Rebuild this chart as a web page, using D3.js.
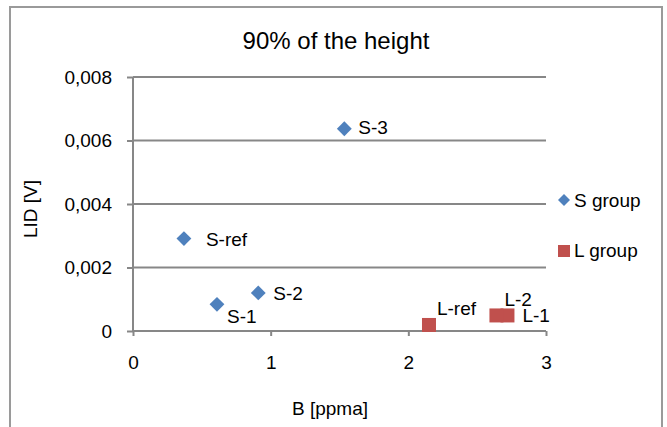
<!DOCTYPE html>
<html>
<head>
<meta charset="utf-8">
<script src="https://cdn.jsdelivr.net/npm/d3@7"></script>
<style>
  body { margin: 0; background: #fff; }
  text { font-family: "Liberation Sans", Arial, sans-serif; fill: #000; }
</style>
</head>
<body>
<div id="chart-area"></div>
<script>
const MARGIN = { LEFT: 133, RIGHT: 121, TOP: 77, BOTTOM: 96 }
const WIDTH = 667 - MARGIN.LEFT - MARGIN.RIGHT
const HEIGHT = 427 - MARGIN.TOP - MARGIN.BOTTOM

// data
const sNames = ["S-ref", "S-1", "S-2", "S-3"]
const sB = [0.37, 0.61, 0.91, 1.535]
const sLID = [0.00291, 0.00084, 0.0012, 0.00637]

const lNames = ["L-ref", "L-1", "L-2"]
const lB = [2.15, 2.72, 2.64]
const lLID = [0.00019, 0.00049, 0.00049]

const xTicks = [0, 1, 2, 3]
const yTicks = [0, 0.002, 0.004, 0.006, 0.008]

// label placement (px from marker centre, left / baseline)
const sLabelOff = [[22, 7], [10, 19], [15, 7], [14, 5]]
const lLabelOff = [[8, -10], [15, 7], [8, -9]]

const svg = d3.select("#chart-area").append("svg")
	.attr("width", 667)
	.attr("height", 427)

// chart border
svg.append("rect")
	.attr("x", 10)
	.attr("y", 7)
	.attr("width", 652)
	.attr("height", 440)
	.attr("fill", "none")
	.attr("stroke", "#9a9a9a")
	.attr("stroke-width", 2)

const g = svg.append("g")
	.attr("transform", `translate(${MARGIN.LEFT}, ${MARGIN.TOP})`)

const x = d3.scaleLinear().domain([0, 3]).range([0, WIDTH])
const y = d3.scaleLinear().domain([0, 0.008]).range([HEIGHT, 0])

// gridlines
g.append("g")
	.selectAll("line")
	.data(yTicks.slice(1))
	.join("line")
	.attr("x1", 0)
	.attr("x2", WIDTH)
	.attr("y1", d => y(d))
	.attr("y2", d => y(d))
	.attr("stroke", "#878787")
	.attr("stroke-width", 2)

const yAxisCall = d3.axisLeft(y)
	.tickValues(yTicks)
	.tickSize(6)
	.tickPadding(15)
	.tickFormat(d => d === 0 ? "0" : d3.format(".3f")(d).replace(".", ","))

const xAxisCall = d3.axisBottom(x)
	.tickValues(xTicks)
	.tickSize(5)
	.tickPadding(20)
	.tickFormat(d3.format("d"))

const yAxis = g.append("g").call(yAxisCall)
const xAxis = g.append("g")
	.attr("transform", `translate(0, ${HEIGHT})`)
	.call(xAxisCall)

for (const ax of [xAxis, yAxis]) {
	ax.select(".domain").attr("stroke", "#878787").attr("stroke-width", 2)
	ax.selectAll(".tick line").attr("stroke", "#878787").attr("stroke-width", 2)
	ax.selectAll(".tick text")
		.attr("font-size", "19px")
		.attr("fill", "#000")
		.style("font-family", "Liberation Sans, Arial, sans-serif")
}
yAxis.select(".domain").attr("d", `M0,${HEIGHT}V0`)
xAxis.select(".domain").attr("d", `M0,0H${WIDTH}`)

// title
svg.append("text")
	.attr("x", 336)
	.attr("y", 49)
	.attr("font-size", "24px")
	.attr("text-anchor", "middle")
	.text("90% of the height")

// X label
svg.append("text")
	.attr("x", 330)
	.attr("y", 415)
	.attr("font-size", "19px")
	.attr("text-anchor", "middle")
	.text("B [ppma]")

// Y label
svg.append("text")
	.attr("transform", "translate(37, 209) rotate(-90)")
	.attr("font-size", "19px")
	.attr("text-anchor", "middle")
	.text("LID [V]")

const diamond = d3.symbol().type(d3.symbolSquare).size(110)

// S group
const sData = sNames.map((n, i) => ({ name: n, b: sB[i], v: sLID[i], off: sLabelOff[i] }))
g.selectAll(".s-pt")
	.data(sData)
	.join("path")
	.attr("class", "s-pt")
	.attr("d", diamond)
	.attr("transform", d => `translate(${x(d.b)}, ${y(d.v)}) rotate(45)`)
	.attr("fill", "#4f81bd")

g.selectAll(".s-lab")
	.data(sData)
	.join("text")
	.attr("class", "s-lab")
	.attr("x", d => x(d.b) + d.off[0])
	.attr("y", d => y(d.v) + d.off[1])
	.attr("font-size", "19px")
	.text(d => d.name)

// L group
const lData = lNames.map((n, i) => ({ name: n, b: lB[i], v: lLID[i], off: lLabelOff[i] }))
g.selectAll(".l-pt")
	.data(lData)
	.join("rect")
	.attr("class", "l-pt")
	.attr("x", d => x(d.b) - 7)
	.attr("y", d => y(d.v) - 7)
	.attr("width", 14)
	.attr("height", 14)
	.attr("fill", "#c0504d")

g.selectAll(".l-lab")
	.data(lData)
	.join("text")
	.attr("class", "l-lab")
	.attr("x", d => x(d.b) + d.off[0])
	.attr("y", d => y(d.v) + d.off[1])
	.attr("font-size", "19px")
	.text(d => d.name)

// legend
const legend = svg.append("g").attr("transform", "translate(564, 200)")
legend.append("path")
	.attr("d", d3.symbol().type(d3.symbolSquare).size(72))
	.attr("transform", "rotate(45)")
	.attr("fill", "#4f81bd")
legend.append("text")
	.attr("x", 10)
	.attr("y", 7)
	.attr("font-size", "19px")
	.text("S group")
legend.append("rect")
	.attr("x", -6)
	.attr("y", 45)
	.attr("width", 12)
	.attr("height", 12)
	.attr("fill", "#c0504d")
legend.append("text")
	.attr("x", 10)
	.attr("y", 57)
	.attr("font-size", "19px")
	.text("L group")
</script>
</body>
</html>
